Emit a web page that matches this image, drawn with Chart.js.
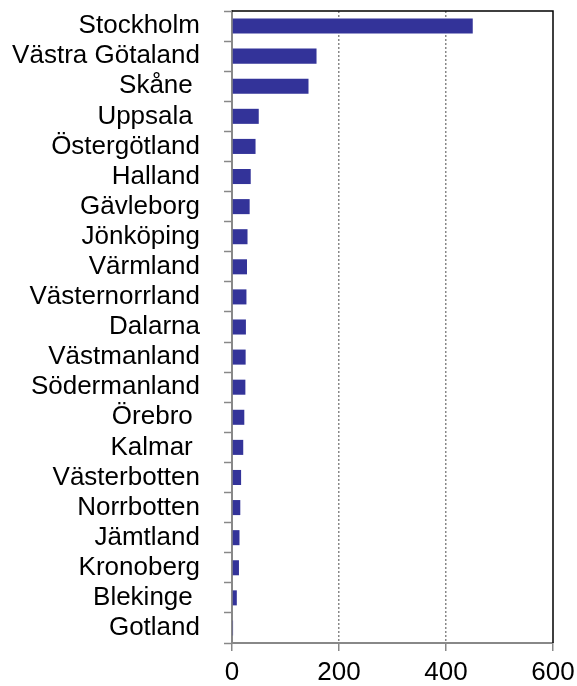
<!DOCTYPE html>
<html>
<head>
<meta charset="utf-8">
<script src="https://cdn.jsdelivr.net/npm/chart.js@4"></script>
<style>
  html, body { margin: 0; padding: 0; background: #fff; }
  canvas { display: block; }
</style>
</head>
<body>
<canvas id="chart" width="577" height="686"></canvas>
<script>
// counties, top to bottom (trailing spaces kept as in the original labels)
const counties = [
  "Stockholm", "Västra Götaland", "Skåne ", "Uppsala ", "Östergötland",
  "Halland", "Gävleborg", "Jönköping", "Värmland", "Västernorrland",
  "Dalarna", "Västmanland", "Södermanland", "Örebro ", "Kalmar ",
  "Västerbotten", "Norrbotten", "Jämtland", "Kronoberg", "Blekinge ", "Gotland"
];
const values = [
  450, 158, 143, 50, 44,
  35, 33, 29, 28, 27,
  26, 25.5, 25, 23, 21,
  17, 15.5, 14, 13, 9, 2
];
const xTicks = [0, 200, 400, 600];

const labelFont = { family: "'Liberation Sans', Arial, Helvetica, sans-serif", size: 26 };

// black frame on top and right of the plot area
const framePlugin = {
  id: "frame",
  afterDraw(chart) {
    const { ctx, chartArea: a } = chart;
    ctx.save();
    ctx.strokeStyle = "#000";
    ctx.lineWidth = 1.5;
    ctx.beginPath();
    ctx.moveTo(a.left, a.top);
    ctx.lineTo(a.right, a.top);
    ctx.lineTo(a.right, a.bottom);
    ctx.stroke();
    ctx.restore();
  }
};

const ctx = document.getElementById("chart").getContext("2d");
const chart = new Chart(ctx, {
  type: "bar",
  data: {
    labels: counties,
    datasets: [
      {
        data: values,
        backgroundColor: "#333399",
        borderWidth: 0,
        barPercentage: 0.5,
        categoryPercentage: 1.0,
      },
    ],
  },
  options: {
    indexAxis: "y",
    responsive: false,
    animation: false,
    layout: { padding: { top: 11, right: 24, left: 0, bottom: 0 } },
    plugins: { legend: { display: false }, tooltip: { enabled: false } },
    scales: {
      x: {
        min: 0,
        max: 600,
        afterBuildTicks: (scale) => { scale.ticks = xTicks.map((v) => ({ value: v })); },
        afterFit: (scale) => {
          scale.height = 43;
          scale.paddingLeft = 0;
          scale.paddingRight = 0;
        },
        ticks: { color: "#000", font: labelFont, padding: 6, maxRotation: 0 },
        grid: {
          color: (c) => (c.tick && (c.tick.value === 200 || c.tick.value === 400) ? "#888" : "rgba(0,0,0,0)"),
          lineWidth: 1.5,
          tickColor: "#888",
          tickLength: 8,
          tickWidth: 1.5,
        },
        border: { color: "#888", width: 2, dash: [2, 2] },
      },
      y: {
        afterFit: (scale) => {
          scale.width = 232;
          scale.paddingTop = 0;
          scale.paddingBottom = 0;
        },
        ticks: { color: "#000", font: labelFont, padding: 24, autoSkip: false },
        grid: {
          drawOnChartArea: false,
          offset: true,
          tickColor: "#888",
          tickLength: 8,
          tickWidth: 1.5,
        },
        border: { color: "#888", width: 2 },
      },
    },
  },
  plugins: [framePlugin],
});
</script>
</body>
</html>
